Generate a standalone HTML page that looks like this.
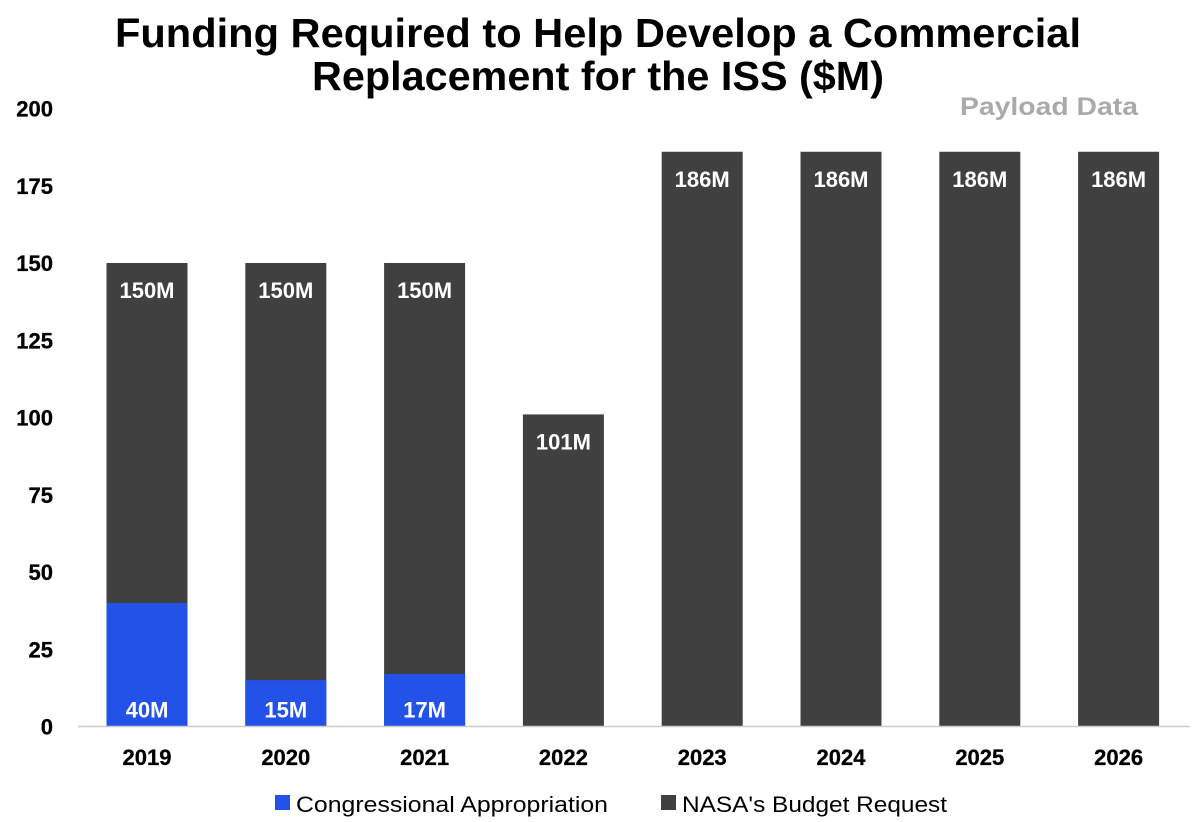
<!DOCTYPE html>
<html><head><meta charset="utf-8"><style>
body{margin:0;background:#fff;}
svg{display:block;font-family:"Liberation Sans",Arial,sans-serif;}
</style></head><body>
<svg id="chart" width="1200" height="822">
<text x="598" y="47" text-anchor="middle" font-size="41" font-weight="bold" fill="#000" textLength="966" lengthAdjust="spacingAndGlyphs">Funding Required to Help Develop a Commercial</text>
<text x="598" y="90" text-anchor="middle" font-size="41" font-weight="bold" fill="#000" textLength="572" lengthAdjust="spacingAndGlyphs">Replacement for the ISS ($M)</text>
<text x="1138" y="115" text-anchor="end" font-size="25" font-weight="bold" fill="#aaa" textLength="178" lengthAdjust="spacingAndGlyphs">Payload Data</text>
<g id="yaxis"></g><g id="bars"></g><g id="xaxis"></g>
<line x1="78" y1="726.5" x2="1190" y2="726.5" stroke="#ccc" stroke-width="1.5"/>
<rect x="275" y="795" width="15" height="15" fill="#2352E8"/>
<text x="296" y="812" font-size="22" fill="#000" textLength="312" lengthAdjust="spacingAndGlyphs">Congressional Appropriation</text>
<rect x="661" y="795" width="15" height="15" fill="#404040"/>
<text x="682" y="812" font-size="22" fill="#000" textLength="265" lengthAdjust="spacingAndGlyphs">NASA's Budget Request</text>
</svg>
<script>
const categories=["2019","2020","2021","2022","2023","2024","2025","2026"];
const nasaRequest=[150,150,150,101,186,186,186,186];
const congressional=[40,15,17,null,null,null,null,null];
const yTicks=[0,25,50,75,100,125,150,175,200];
const NS="http://www.w3.org/2000/svg";
const y0=726.5,y200=108.5;
function y(v){return y0-(v/200)*(y0-y200);}
function xc(i){return 147+i*138.8;}
const bw=81;
function mk(tag,attrs,parent,text){const e=document.createElementNS(NS,tag);for(const k in attrs)e.setAttribute(k,attrs[k]);if(text!==undefined)e.textContent=text;document.getElementById(parent).appendChild(e);return e;}
yTicks.forEach(t=>{
 const e=mk("text",{x:53,y:y(t)+8,"text-anchor":"end","font-size":"22",fill:"#000","font-weight":"600",stroke:"#000","stroke-width":"0.3"},"yaxis",String(t));
 
 
});
categories.forEach((c,i)=>{
 const v=nasaRequest[i];
 const r=mk("rect",{x:xc(i)-bw/2,y:y(v),width:bw,height:y0-y(v),fill:"#404040"},"bars");
 
 
 const t=mk("text",{x:xc(i),y:y(v)+35,"text-anchor":"middle","font-size":"22","font-weight":"bold",fill:"#fff"},"bars",v+"M");
 
 
 const cv=congressional[i];
 if(cv!=null){
  const b=mk("rect",{x:xc(i)-bw/2,y:y(cv),width:bw,height:y0-y(cv),fill:"#2352E8"},"bars");
  
  
  const bt=mk("text",{x:xc(i),y:y0-9,"text-anchor":"middle","font-size":"22","font-weight":"bold",fill:"#fff"},"bars",cv+"M");
  
  
 }
 const xl=mk("text",{x:xc(i),y:765,"text-anchor":"middle","font-size":"22",fill:"#000","font-weight":"600",stroke:"#000","stroke-width":"0.3"},"xaxis",c);
 
 
});
</script>
</body></html>
